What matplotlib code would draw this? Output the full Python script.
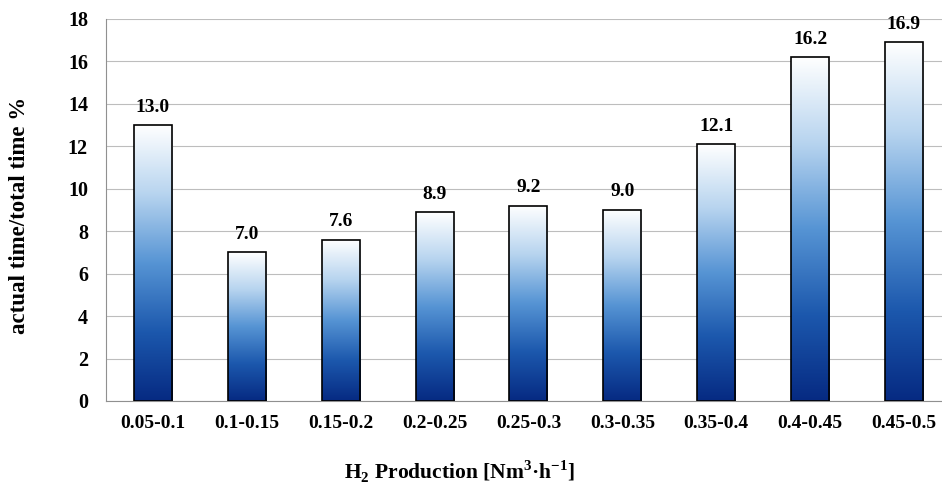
import numpy as np
import matplotlib.pyplot as plt
from matplotlib.colors import LinearSegmentedColormap
from matplotlib.patches import Rectangle

categories = ['0.05-0.1', '0.1-0.15', '0.15-0.2', '0.2-0.25', '0.25-0.3',
              '0.3-0.35', '0.35-0.4', '0.4-0.45', '0.45-0.5']
share = [13.0, 7.0, 7.6, 8.9, 9.2, 9.0, 12.1, 16.2, 16.9]

plt.rcParams['font.family'] = ['Liberation Serif', 'DejaVu Serif']
plt.rcParams['font.weight'] = 'bold'
plt.rcParams['mathtext.fontset'] = 'custom'
plt.rcParams['mathtext.rm'] = 'Liberation Serif:bold'
plt.rcParams['mathtext.bf'] = 'Liberation Serif:bold'

fig = plt.figure(figsize=(9.42, 4.84), dpi=100)
ax = fig.add_axes([106 / 942, 1 - 401 / 484, 836 / 942, 382 / 484])

# white at the top of each bar fading to deep navy at the base
cmap = LinearSegmentedColormap.from_list(
    'bar_grad', ['#062a82', '#1c58ad', '#5694d4', '#b7d4ef', '#ffffff'])
grad = np.linspace(0, 1, 256).reshape(-1, 1)

x = np.arange(len(categories))
width = 0.405
for xi, val in zip(x, share):
    im = ax.imshow(grad, cmap=cmap, aspect='auto', origin='lower',
                   extent=(xi - width / 2, xi + width / 2, 0, val), zorder=2)
    rect = Rectangle((xi - width / 2, 0), width, val, fill=False,
                     edgecolor='black', linewidth=1.2, zorder=3)
    ax.add_patch(rect)
    im.set_clip_path(rect)
    ax.text(xi, val + 0.45, f'{val:.1f}', ha='center', va='bottom',
            fontsize=14, fontweight='bold')

ax.set_xlim(-0.5, len(categories) - 0.595)
ax.set_ylim(0, 18)
ax.set_yticks(np.arange(0, 19, 2))
ax.set_xticks(x)
ax.set_xticklabels(categories)
ax.tick_params(axis='y', length=0, labelsize=14.5, pad=13)
ax.tick_params(axis='x', length=0, labelsize=14, pad=10)
ax.grid(axis='y', color='#bdbdbd', linewidth=0.8, zorder=0)
ax.set_axisbelow(True)
for side in ['top', 'right']:
    ax.spines[side].set_visible(False)
for side in ['left', 'bottom']:
    ax.spines[side].set_color('#909090')

fig.text(20 / 942, 1 - 215 / 484, 'actual time/total time %', rotation=90,
         ha='center', va='center', fontsize=16.5, fontweight='bold')
fig.text(460 / 942, 1 - 472 / 484,
         r'H$_{\mathbf{2}}$ Production [Nm$^{\mathbf{3}}$·h$^{\mathbf{-1}}$]',
         ha='center', va='center', fontsize=15.5, fontweight='bold')

fig.savefig('out.png', dpi=100)
